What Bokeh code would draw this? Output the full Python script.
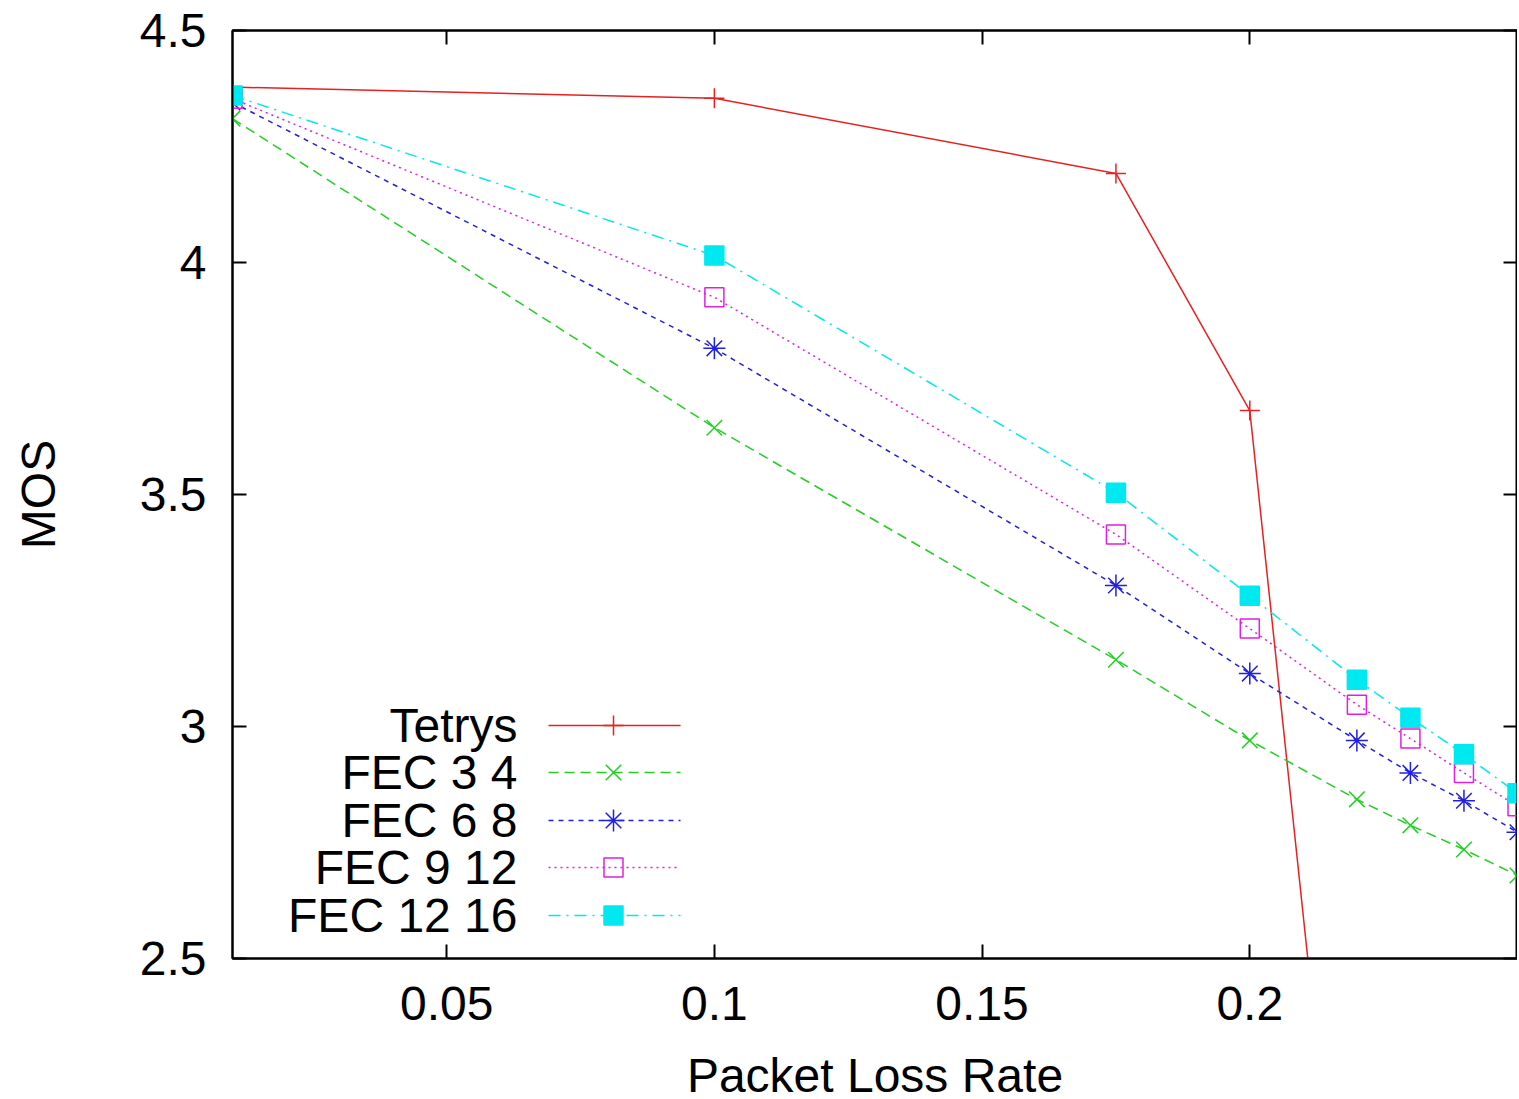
from bokeh.plotting import figure
from bokeh.models import (Range1d, LinearAxis, FixedTicker, CustomJSTickFormatter)
from bokeh.core.properties import value
from bokeh.embed import file_html
from bokeh.resources import INLINE

# ---- data ----
loss = [0.01, 0.1, 0.175, 0.2, 0.22, 0.23, 0.24, 0.25]
tetrys_x = [0.01, 0.1, 0.175, 0.2, 0.22]
tetrys = [4.378, 4.354, 4.192, 3.681, 1.50]
fec_3_4 = [4.31, 3.644, 3.144, 2.97, 2.843, 2.787, 2.735, 2.679]
fec_6_8 = [4.345, 3.815, 3.304, 3.114, 2.97, 2.90, 2.84, 2.772]
fec_9_12 = [4.353, 3.925, 3.414, 3.211, 3.047, 2.974, 2.90, 2.828]
fec_12_16 = [4.36, 4.015, 3.504, 3.282, 3.101, 3.019, 2.94, 2.856]

series_names = ["Tetrys", "FEC 3 4", "FEC 6 8", "FEC 9 12", "FEC 12 16"]
x_ticks = [0.05, 0.1, 0.15, 0.2]
x_tick_labels = ["0.05", "0.1", "0.15", "0.2"]
y_ticks = [2.5, 3.0, 3.5, 4.0, 4.5]
y_tick_labels = ["2.5", "3", "3.5", "4", "4.5"]

FONT = "Liberation Sans"
FS = "48px"

FW, FH = 1285, 928
p = figure(frame_width=FW, frame_height=FH, output_backend="svg", toolbar_location=None,
           x_range=Range1d(0.01, 0.25), y_range=Range1d(2.5, 4.5),
           min_border_left=232, min_border_top=30, min_border_bottom=141, min_border_right=0,
           background_fill_color="white", border_fill_color="white")
p.grid.visible = False
p.outline_line_color = "black"
p.outline_line_width = 2
p.extra_x_ranges = {"key": Range1d(0, FW)}
p.extra_y_ranges = {"key": Range1d(0, FH)}

fmt_code = """
const i = tvals.findIndex(t => Math.abs(t - tick) < 1e-9);
return i >= 0 ? tlabels[i] : "";
"""

def style_axis(ax, ticks, labels, show):
    ax.ticker = FixedTicker(ticks=ticks)
    ax.minor_tick_line_color = None
    ax.major_tick_in = 14
    ax.major_tick_out = 0
    ax.major_tick_line_width = 2
    ax.major_tick_line_color = "black"
    ax.axis_line_color = "black"
    ax.axis_line_width = 2
    if show:
        ax.formatter = CustomJSTickFormatter(args=dict(tvals=ticks, tlabels=labels), code=fmt_code)
        ax.major_label_text_font = FONT
        ax.major_label_text_font_size = FS
        ax.major_label_text_color = "black"
        ax.axis_label_text_font = FONT
        ax.axis_label_text_font_size = FS
        ax.axis_label_text_font_style = "normal"
        ax.axis_label_text_color = "black"
    else:
        ax.formatter = CustomJSTickFormatter(code="return '';")
        ax.major_label_standoff = 0
        ax.major_label_text_font_size = "1px"

xa = p.xaxis[0]
style_axis(xa, x_ticks, x_tick_labels, True)
xa.axis_label = "Packet Loss Rate"
xa.major_label_standoff = 28
xa.axis_label_standoff = 26

ya = p.yaxis[0]
style_axis(ya, y_ticks, y_tick_labels, True)
ya.axis_label = "MOS"
ya.major_label_standoff = 26
ya.axis_label_standoff = 72

top = LinearAxis()
style_axis(top, x_ticks, x_tick_labels, False)
p.add_layout(top, "above")
right = LinearAxis()
style_axis(right, y_ticks, y_tick_labels, False)
p.add_layout(right, "right")

styles = [
    dict(color="#e82020", dash="solid", marker="cross", size=20, fill=None),
    dict(color="#22d022", dash="10 6", marker="x", size=22, fill=None),
    dict(color="#2020e0", dash="5 5", marker="asterisk", size=22, fill=None),
    dict(color="#e020e0", dash="2 4", marker="square", size=19, fill=None),
    dict(color="#00e8f0", dash="12 6 2 6", marker="square", size=19, fill="#00e8f0"),
]
xs = [tetrys_x, loss, loss, loss, loss]
ys = [tetrys, fec_3_4, fec_6_8, fec_9_12, fec_12_16]

key_rows = [233, 186, 138, 91, 43]
for name, st, xv, yv, ky in zip(series_names, styles, xs, ys, key_rows):
    p.line(xv, yv, line_color=st["color"], line_width=1.5, line_dash=st["dash"])
    p.scatter(xv, yv, marker=st["marker"], size=st["size"], line_color=st["color"],
              line_width=1.5, fill_color=st["fill"])
    # gnuplot-style key: label then sample
    p.text(x=[285], y=[ky], text=[name], text_align="right", text_baseline="middle",
           text_font=value(FONT), text_font_size=FS, text_color="black",
           x_range_name="key", y_range_name="key")
    p.line([316, 448], [ky, ky], line_color=st["color"], line_width=1.5, line_dash=st["dash"],
           x_range_name="key", y_range_name="key")
    p.scatter([381], [ky], marker=st["marker"], size=st["size"], line_color=st["color"],
              line_width=1.5, fill_color=st["fill"], x_range_name="key", y_range_name="key")

open("out.html", "w").write(file_html(p, INLINE))
